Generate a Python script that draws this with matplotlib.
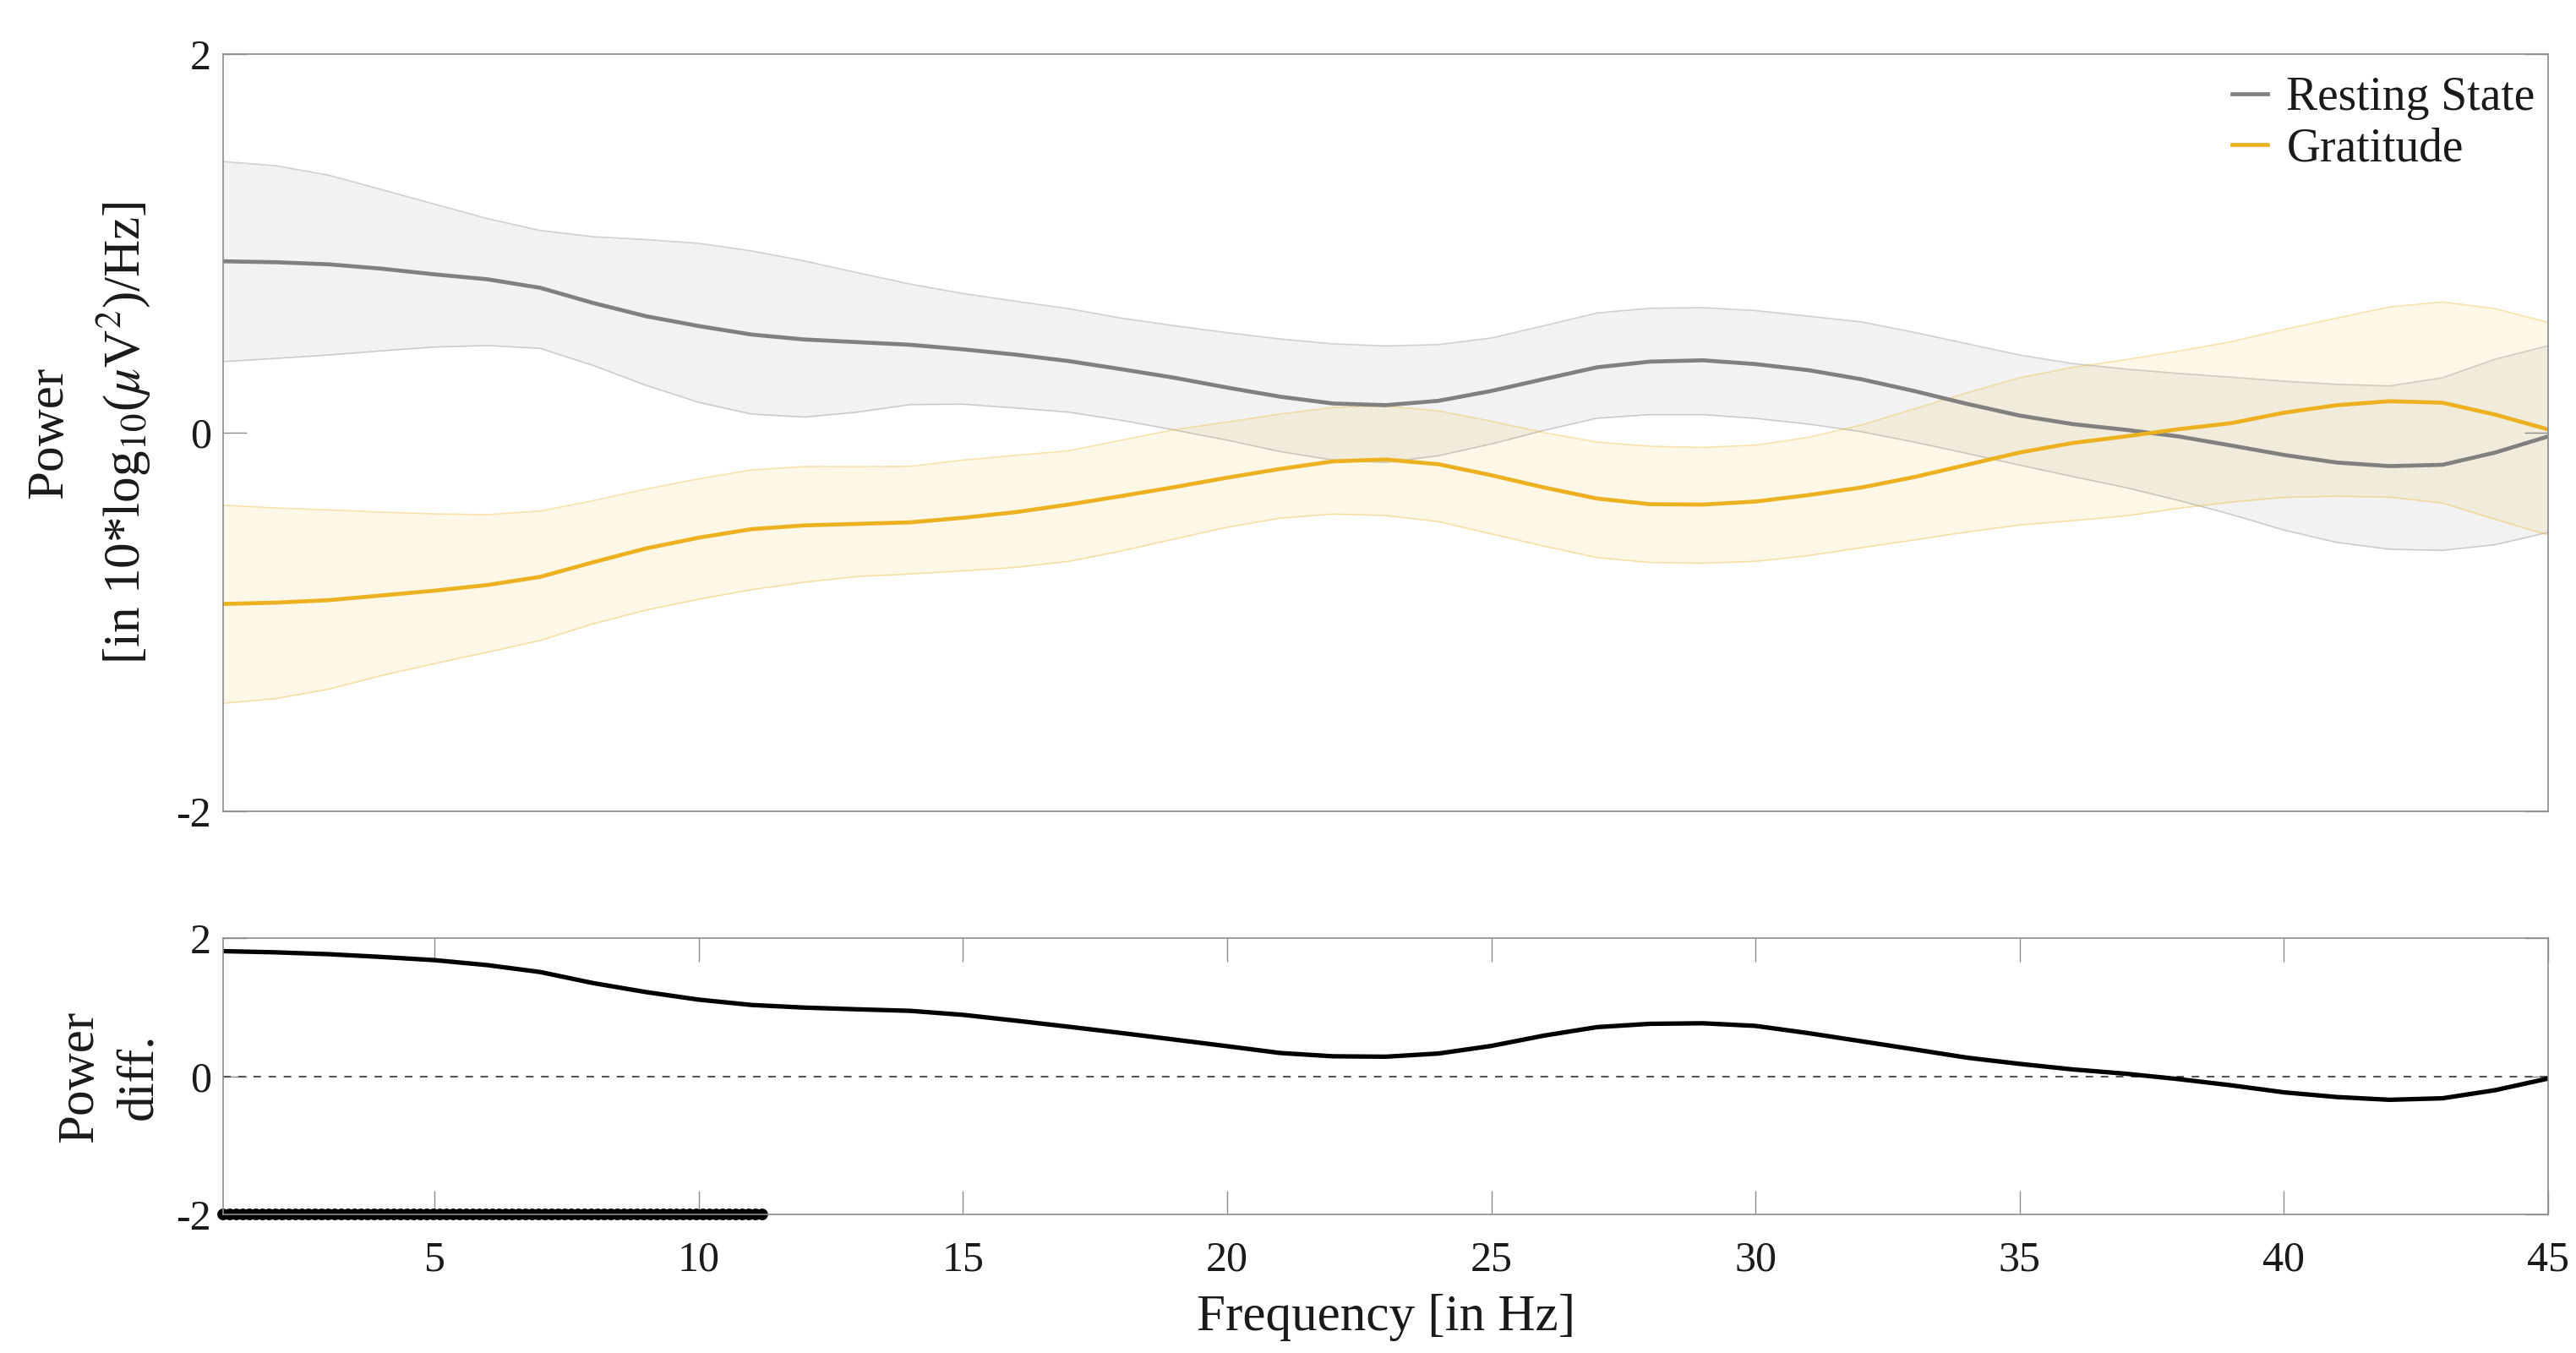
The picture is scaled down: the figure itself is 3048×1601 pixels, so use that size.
import numpy as np
import matplotlib
matplotlib.use('Agg')
import matplotlib.pyplot as plt

plt.rcParams['font.family'] = ['Liberation Serif', 'DejaVu Serif']
plt.rcParams['mathtext.fontset'] = 'stix'
plt.rcParams['axes.unicode_minus'] = False

# frequency bins [Hz]
freq = [1, 2, 3, 4, 5, 6, 7, 8, 9, 10, 11, 12, 13, 14, 15,
        16, 17, 18, 19, 20, 21, 22, 23, 24, 25, 26, 27, 28, 29, 30,
        31, 32, 33, 34, 35, 36, 37, 38, 39, 40, 41, 42, 43, 44, 45]

# resting state: mean and confidence band
rest_mean = [0.905, 0.900, 0.889, 0.866, 0.836, 0.810, 0.765, 0.685, 0.615, 0.563,
             0.518, 0.492, 0.478, 0.464, 0.440, 0.412, 0.378, 0.335, 0.290, 0.238,
             0.190, 0.154, 0.145, 0.168, 0.220, 0.283, 0.345, 0.375, 0.382, 0.362,
             0.330, 0.282, 0.220, 0.152, 0.090, 0.045, 0.015, -0.020, -0.068, -0.118,
             -0.158, -0.177, -0.170, -0.105, -0.020]
rest_hi = [1.432, 1.410, 1.360, 1.284, 1.207, 1.131, 1.068, 1.035, 1.020, 1.000,
           0.960, 0.907, 0.845, 0.785, 0.735, 0.694, 0.655, 0.605, 0.565, 0.528,
           0.495, 0.469, 0.458, 0.465, 0.500, 0.565, 0.632, 0.657, 0.660, 0.645,
           0.615, 0.585, 0.530, 0.470, 0.410, 0.365, 0.336, 0.313, 0.293, 0.272,
           0.255, 0.247, 0.290, 0.388, 0.459]
rest_lo = [0.375, 0.392, 0.410, 0.432, 0.452, 0.460, 0.445, 0.355, 0.250, 0.160,
           0.098, 0.082, 0.108, 0.148, 0.150, 0.130, 0.108, 0.065, 0.014, -0.040,
           -0.100, -0.145, -0.158, -0.122, -0.060, 0.012, 0.076, 0.095, 0.095, 0.075,
           0.045, 0.005, -0.050, -0.110, -0.172, -0.232, -0.290, -0.358, -0.432, -0.515,
           -0.580, -0.616, -0.622, -0.592, -0.527]

# gratitude: mean and confidence band
grat_mean = [-0.905, -0.898, -0.885, -0.860, -0.835, -0.805, -0.762, -0.685, -0.612, -0.555,
             -0.510, -0.490, -0.482, -0.474, -0.450, -0.420, -0.380, -0.335, -0.288, -0.238,
             -0.192, -0.152, -0.142, -0.167, -0.225, -0.290, -0.348, -0.378, -0.380, -0.364,
             -0.330, -0.290, -0.235, -0.170, -0.105, -0.055, -0.020, 0.018, 0.050, 0.105,
             0.145, 0.166, 0.158, 0.095, 0.017]
grat_hi = [-0.383, -0.398, -0.408, -0.420, -0.429, -0.433, -0.414, -0.360, -0.298, -0.244,
           -0.197, -0.179, -0.180, -0.178, -0.145, -0.120, -0.096, -0.040, 0.016, 0.056,
           0.098, 0.133, 0.140, 0.115, 0.060, 0.000, -0.050, -0.072, -0.078, -0.066,
           -0.025, 0.040, 0.125, 0.210, 0.290, 0.345, 0.385, 0.430, 0.480, 0.545,
           0.605, 0.664, 0.690, 0.655, 0.582]
grat_lo = [-1.430, -1.405, -1.355, -1.283, -1.220, -1.160, -1.098, -1.010, -0.938, -0.880,
           -0.830, -0.790, -0.760, -0.747, -0.730, -0.712, -0.680, -0.625, -0.562, -0.500,
           -0.452, -0.430, -0.438, -0.470, -0.535, -0.600, -0.660, -0.686, -0.690, -0.680,
           -0.650, -0.608, -0.567, -0.525, -0.488, -0.465, -0.440, -0.400, -0.367, -0.342,
           -0.336, -0.341, -0.372, -0.458, -0.541]

# power difference (resting - gratitude)
power_diff = [1.812, 1.795, 1.768, 1.728, 1.682, 1.610, 1.510, 1.350, 1.220, 1.110,
              1.033, 0.995, 0.970, 0.948, 0.890, 0.806, 0.718, 0.627, 0.532, 0.436,
              0.338, 0.290, 0.284, 0.330, 0.440, 0.590, 0.712, 0.760, 0.768, 0.730,
              0.625, 0.508, 0.390, 0.270, 0.180, 0.100, 0.038, -0.040, -0.130, -0.232,
              -0.300, -0.340, -0.318, -0.200, -0.032]

# significant frequency range [Hz]
sig_range = [1.0, 11.2]

labels = ['Resting State', 'Gratitude']
c_rest = '#808080'
c_grat = '#EDB120'
c_axis = '#8c8c8c'
c_text = '#1a1a1a'


def style_axes(ax):
    for sp in ax.spines.values():
        sp.set_color(c_axis)
        sp.set_linewidth(1.2)
    ax.tick_params(direction='in', length=20, width=1.0, color=c_axis,
                   labelcolor=c_text, labelsize=36, top=True, right=True, pad=10)
    ax.set_xlim(1, 45)
    ax.set_ylim(-2, 2)
    ax.set_yticks([-2, 0, 2])


fig = plt.figure(figsize=(30.48, 16.01), dpi=100)
ax1 = fig.add_axes([0.0866, 0.4004, 0.9026, 0.5597])
ax2 = fig.add_axes([0.0866, 0.1024, 0.9026, 0.2042])

# upper panel: spectra with bands
ax1.fill_between(freq, rest_lo, rest_hi, color=c_rest, alpha=0.1, lw=0)
ax1.plot(freq, rest_hi, color=c_rest, alpha=0.35, lw=1.2)
ax1.plot(freq, rest_lo, color=c_rest, alpha=0.35, lw=1.2)
ax1.fill_between(freq, grat_lo, grat_hi, color=c_grat, alpha=0.1, lw=0)
ax1.plot(freq, grat_hi, color=c_grat, alpha=0.35, lw=1.2)
ax1.plot(freq, grat_lo, color=c_grat, alpha=0.35, lw=1.2)
l1, = ax1.plot(freq, rest_mean, color=c_rest, lw=3.4, label=labels[0])
l2, = ax1.plot(freq, grat_mean, color=c_grat, lw=3.4, label=labels[1])

style_axes(ax1)
ax1.set_xticks([])
ax1.set_ylabel('Power\n[in 10*log$_{10}$($\\mu$V$^{2}$)/Hz]', fontsize=44,
               color=c_text, linespacing=1.5)
ax1.yaxis.set_label_coords(-0.0305, 0.5)
leg = ax1.legend(handles=[l1, l2], loc='upper right', bbox_to_anchor=(1.0065, 1.008),
                 frameon=False, fontsize=40, handlelength=0.75, handletextpad=0.4,
                 labelspacing=0.15, borderaxespad=0.2)
for t in leg.get_texts():
    t.set_color(c_text)

# lower panel: difference and significant bins
ax2.axhline(0, color='#555555', lw=1.5, linestyle=(0, (4.3, 4.3)))
ax2.plot(freq, power_diff, color='black', lw=3.8)
ax2.plot(sig_range, [-2, -2], color='black', lw=10, linestyle=(0, (0.01, 0.55)),
         dash_capstyle='round', clip_on=False)

style_axes(ax2)
ax2.set_xticks([5, 10, 15, 20, 25, 30, 35, 40, 45])
ax2.tick_params(axis='x', pad=22)
ax2.set_xlabel('Frequency [in Hz]', fontsize=44, color=c_text, labelpad=12)
ax2.set_ylabel('Power\ndiff.', fontsize=44, color=c_text, linespacing=1.35)
ax2.yaxis.set_label_coords(-0.026, 0.5)

plt.savefig('out.png', dpi=100)
